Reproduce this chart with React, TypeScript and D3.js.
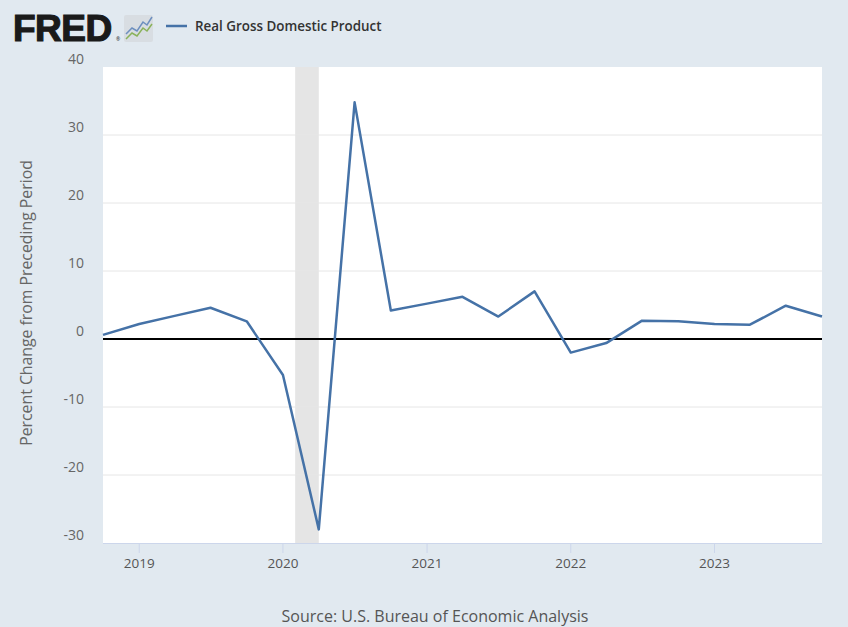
import React from "react";
import * as d3 from "d3";

const quarters: string[] = [
  "2018-10-01","2019-01-01","2019-04-01","2019-07-01","2019-10-01",
  "2020-01-01","2020-04-01","2020-07-01","2020-10-01",
  "2021-01-01","2021-04-01","2021-07-01","2021-10-01",
  "2022-01-01","2022-04-01","2022-07-01","2022-10-01",
  "2023-01-01","2023-04-01","2023-07-01","2023-10-01",
];
const gdpGrowth: number[] = [
  0.6, 2.2, 3.4, 4.6, 2.6,
  -5.3, -28.0, 34.8, 4.2,
  5.2, 6.2, 3.3, 7.0,
  -2.0, -0.6, 2.7, 2.6,
  2.2, 2.1, 4.9, 3.3,
];
const yTicks: number[] = [-30, -20, -10, 0, 10, 20, 30, 40];
const xTickYears: number[] = [2019, 2020, 2021, 2022, 2023];
const recessions: [string, string][] = [["2020-02-01", "2020-04-01"]];

const seriesName = "Real Gross Domestic Product";
const yTitle = "Percent Change from Preceding Period";
const source = "Source: U.S. Bureau of Economic Analysis";

export default function App() {
  const W = 848, H = 627;
  const left = 103, right = 822, top = 67, bottom = 543;
  const parse = d3.utcParse("%Y-%m-%d");
  const data = quarters.map((q, i) => ({ d: parse(q) as Date, v: gdpGrowth[i] }));
  const x = d3.scaleUtc().domain([data[0].d, data[data.length - 1].d]).range([left, right]);
  const y = d3.scaleLinear().domain([-30, 40]).range([bottom, top]);
  const line = d3.line<{ d: Date; v: number }>().x(p => x(p.d)).y(p => y(p.v));
  const font = "'Open Sans', 'Noto Sans', sans-serif";

  return (
    <svg width={W} height={H} style={{ position: "absolute", left: 0, top: 0 }} fontFamily={font}>
      <rect x={0} y={0} width={W} height={H} fill="#e1e9f0" />
      {/* logo */}
      <text x={13} y={41} fontSize={37} fontWeight={700} fill="#1a1a1a" stroke="#1a1a1a" strokeWidth={1.2} letterSpacing={-0.5} fontFamily="'Liberation Sans', Arial, sans-serif">FRED</text>
      <text x={116} y={41} fontSize={5} fill="#1a1a1a">®</text>
      <rect x={124} y={15} width={29} height={27} rx={2} fill="#d8dde2" />
      <polyline points="126,34 132,28 137,31 143,22 147,25 152,17" fill="none" stroke="#6d8fbf" strokeWidth={1.5} />
      <polyline points="126,39 132,33 137,36 143,28 147,31 152,24" fill="none" stroke="#8ab25a" strokeWidth={1.5} />
      {/* legend */}
      <line x1={166} x2={187} y1={26} y2={26} stroke="#4572a7" strokeWidth={2.5} />
      <text x={195} y={30.5} fontSize={13.4} fontWeight={600} fill="#333333">{seriesName}</text>
      {/* plot area */}
      <rect x={left} y={top} width={right - left} height={bottom - top} fill="#ffffff" />
      {recessions.map(([a, b], i) => (
        <rect key={i} x={x(parse(a) as Date)} y={top} width={x(parse(b) as Date) - x(parse(a) as Date)} height={bottom - top} fill="#e5e5e5" />
      ))}
      {yTicks.filter(t => t !== 40 && t !== -30).map(t => (
        <line key={t} x1={left} x2={right} y1={y(t)} y2={y(t)} stroke="#e6e6e6" strokeWidth={1} />
      ))}
      {yTicks.map(t => (
        <text key={t} x={84} y={y(t) - 3} fontSize={14} fill="#666666" textAnchor="end">{t}</text>
      ))}
      <line x1={left} x2={right} y1={bottom + 0.5} y2={bottom + 0.5} stroke="#ccd6eb" strokeWidth={1} />
      {xTickYears.map(yr => {
        const xx = x(new Date(Date.UTC(yr, 0, 1)));
        return (
          <g key={yr}>
            <line x1={xx} x2={xx} y1={bottom} y2={bottom + 10} stroke="#ccd6eb" strokeWidth={1} />
            <text x={xx} y={568} fontSize={13.5} fill="#555555" textAnchor="middle">{yr}</text>
          </g>
        );
      })}
      <line x1={left} x2={right} y1={y(0)} y2={y(0)} stroke="#000000" strokeWidth={2.2} />
      <path d={line(data) || ""} fill="none" stroke="#4572a7" strokeWidth={2.5} strokeLinejoin="round" />
      <text transform={`translate(32,${(top + bottom) / 2 - 2}) rotate(-90)`} fontSize={15.8} fill="#666666" textAnchor="middle">{yTitle}</text>
      <text x={435} y={622} fontSize={16} fill="#555555" textAnchor="middle">{source}</text>
    </svg>
  );
}
